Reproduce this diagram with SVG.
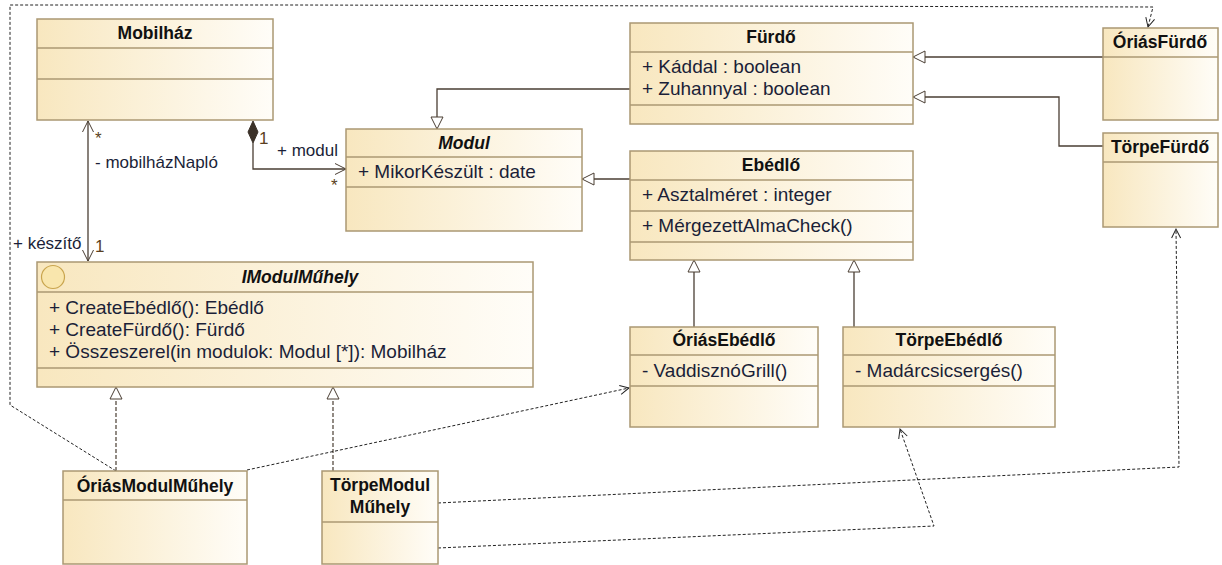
<svg xmlns="http://www.w3.org/2000/svg" width="1222" height="565" viewBox="0 0 1222 565">
  <defs>
    <linearGradient id="classFill" x1="0" y1="0" x2="1" y2="0">
      <stop offset="0" stop-color="#f8e7bf"/>
      <stop offset="1" stop-color="#fffdf8"/>
    </linearGradient>
    <!-- hollow triangle for generalization / realization -->
    <marker id="genArrow" markerUnits="userSpaceOnUse" markerWidth="14" markerHeight="14" refX="12" refY="6" orient="auto" overflow="visible">
      <path d="M0,0 L12,6 L0,12 Z" fill="#ffffff" stroke="#4a3e33" stroke-width="1"/>
    </marker>
    <!-- open arrowhead for associations -->
    <marker id="openArrow" markerUnits="userSpaceOnUse" markerWidth="14" markerHeight="14" refX="11" refY="5.5" orient="auto-start-reverse" overflow="visible">
      <path d="M0,0 L11,5.5 L0,11" fill="none" stroke="#4a3e33" stroke-width="1"/>
    </marker>
    <!-- open arrowhead for dependencies -->
    <marker id="depArrow" markerUnits="userSpaceOnUse" markerWidth="12" markerHeight="12" refX="9" refY="4.5" orient="auto" overflow="visible">
      <path d="M0,0 L9,4.5 L0,9" fill="none" stroke="#222" stroke-width="1"/>
    </marker>
  </defs>
  <style>
    .box { fill: url(#classFill); stroke: #ab9873; stroke-width: 1.5; }
    .sep { stroke: #ab9873; stroke-width: 1.5; }
    .title { font-family: "Liberation Sans", Arial, sans-serif; font-size: 17.5px; font-weight: bold; fill: #111; text-anchor: middle; }
    .ititle { font-style: italic; }
    .member { font-family: "Liberation Sans", Arial, sans-serif; font-size: 19px; fill: #1b1f38; }
    .label { font-family: "Liberation Sans", Arial, sans-serif; font-size: 17px; fill: #1b1f38; }
    .mult { font-family: "Liberation Sans", Arial, sans-serif; font-size: 17px; fill: #5a3f22; }
    .gen { fill: none; stroke: #4a3e33; stroke-width: 1.3; }
    .real { fill: none; stroke: #4a3e33; stroke-width: 1.2; stroke-dasharray: 4 2; }
    .dep { fill: none; stroke: #222; stroke-width: 1; stroke-dasharray: 3 2; }
  </style>

  <rect width="1222" height="565" fill="#ffffff"/>

  <!-- connectors -->
  <g id="connectors">
    <!-- generalizations -->
    <path class="gen" d="M630,89 L437,89 L437,129" marker-end="url(#genArrow)"/>
    <path class="gen" d="M630,179 L582,179" marker-end="url(#genArrow)"/>
    <path class="gen" d="M1103,57 L913,57" marker-end="url(#genArrow)"/>
    <path class="gen" d="M1103,146 L1059,146 L1059,97 L913,97" marker-end="url(#genArrow)"/>
    <path class="gen" d="M694,327 L694,260" marker-end="url(#genArrow)"/>
    <path class="gen" d="M854,327 L854,260" marker-end="url(#genArrow)"/>
    <!-- realizations of the interface -->
    <path class="real" d="M116,471 L116,387" marker-end="url(#genArrow)"/>
    <path class="real" d="M333,471 L333,387" marker-end="url(#genArrow)"/>
    <!-- composition Mobilház - Modul -->
    <path class="gen" d="M253,143 L253,169 L346,169" marker-end="url(#openArrow)"/>
    <path d="M253,121 L258,132 L253,143 L248,132 Z" fill="#3b3128" stroke="#3b3128" stroke-width="1"/>
    <!-- association Mobilház - IModulMűhely -->
    <path class="gen" d="M88,121 L88,261" marker-start="url(#openArrow)" marker-end="url(#openArrow)"/>
    <!-- dependencies -->
    <path class="dep" d="M116,471 L10,405 L10,5 L293,5 L1153,7 L1148,27" marker-end="url(#depArrow)"/>
    <path class="dep" d="M247,470 L629,388" marker-end="url(#depArrow)"/>
    <path class="dep" d="M438,503 L1179,467 L1176,229" marker-end="url(#depArrow)"/>
    <path class="dep" d="M438,548 L934,526 L900,429" marker-end="url(#depArrow)"/>

    <!-- association end labels -->
    <text class="mult" x="95" y="144">*</text>
    <text class="label" x="95" y="168">- mobilházNapló</text>
    <text class="label" x="13" y="249">+ készítő</text>
    <text class="mult" x="95" y="252">1</text>
    <text class="mult" x="259" y="144">1</text>
    <text class="label" x="277" y="156">+ modul</text>
    <text class="mult" x="331" y="191">*</text>
  </g>

  <!-- classes -->
  <g id="mobilhaz">
    <rect class="box" x="37" y="19" width="236" height="101"/>
    <line class="sep" x1="37" y1="48" x2="273" y2="48"/>
    <line class="sep" x1="37" y1="79" x2="273" y2="79"/>
    <text class="title" x="155" y="39">Mobilház</text>
  </g>

  <g id="modul">
    <rect class="box" x="346" y="129" width="236" height="102"/>
    <line class="sep" x1="346" y1="157" x2="582" y2="157"/>
    <line class="sep" x1="346" y1="187" x2="582" y2="187"/>
    <text class="title ititle" x="464" y="149">Modul</text>
    <text class="member" x="358" y="178">+ MikorKészült : date</text>
  </g>

  <g id="furdo">
    <rect class="box" x="630" y="23" width="283" height="101"/>
    <line class="sep" x1="630" y1="52" x2="913" y2="52"/>
    <line class="sep" x1="630" y1="105" x2="913" y2="105"/>
    <text class="title" x="771" y="43">Fürdő</text>
    <text class="member" x="642" y="73">+ Káddal : boolean</text>
    <text class="member" x="642" y="95">+ Zuhannyal : boolean</text>
  </g>

  <g id="oriasfurdo">
    <rect class="box" x="1103" y="28" width="115" height="92"/>
    <line class="sep" x1="1103" y1="57" x2="1218" y2="57"/>
    <text class="title" x="1160" y="48">ÓriásFürdő</text>
  </g>

  <g id="torpefurdo">
    <rect class="box" x="1103" y="133" width="115" height="94"/>
    <line class="sep" x1="1103" y1="162" x2="1218" y2="162"/>
    <text class="title" x="1160" y="153">TörpeFürdő</text>
  </g>

  <g id="ebedlo">
    <rect class="box" x="630" y="151" width="283" height="109"/>
    <line class="sep" x1="630" y1="180" x2="913" y2="180"/>
    <line class="sep" x1="630" y1="211" x2="913" y2="211"/>
    <line class="sep" x1="630" y1="242" x2="913" y2="242"/>
    <text class="title" x="771" y="171">Ebédlő</text>
    <text class="member" x="642" y="201">+ Asztalméret : integer</text>
    <text class="member" x="642" y="232">+ MérgezettAlmaCheck()</text>
  </g>

  <g id="oriasebedlo">
    <rect class="box" x="630" y="327" width="188" height="100"/>
    <line class="sep" x1="630" y1="355" x2="818" y2="355"/>
    <line class="sep" x1="630" y1="386" x2="818" y2="386"/>
    <text class="title" x="724" y="346">ÓriásEbédlő</text>
    <text class="member" x="642" y="377">- VaddisznóGrill()</text>
  </g>

  <g id="torpeebedlo">
    <rect class="box" x="843" y="327" width="212" height="100"/>
    <line class="sep" x1="843" y1="355" x2="1055" y2="355"/>
    <line class="sep" x1="843" y1="386" x2="1055" y2="386"/>
    <text class="title" x="949" y="346">TörpeEbédlő</text>
    <text class="member" x="855" y="377">- Madárcsicsergés()</text>
  </g>

  <g id="imodulmuhely">
    <rect class="box" x="37" y="262" width="496" height="125"/>
    <line class="sep" x1="37" y1="292" x2="533" y2="292"/>
    <line class="sep" x1="37" y1="368" x2="533" y2="368"/>
    <circle cx="53" cy="277" r="11.5" fill="#f9e6ad" stroke="#c9a54e" stroke-width="1.2"/>
    <text class="title ititle" x="300" y="283">IModulMűhely</text>
    <text class="member" x="49" y="314">+ CreateEbédlő(): Ebédlő</text>
    <text class="member" x="49" y="336">+ CreateFürdő(): Fürdő</text>
    <text class="member" x="49" y="358">+ Összeszerel(in modulok: Modul [*]): Mobilház</text>
  </g>

  <g id="oriasmodulmuhely">
    <rect class="box" x="63" y="471" width="184" height="93"/>
    <line class="sep" x1="63" y1="500" x2="247" y2="500"/>
    <text class="title" x="155" y="492">ÓriásModulMűhely</text>
  </g>

  <g id="torpemodulmuhely">
    <rect class="box" x="322" y="471" width="116" height="93"/>
    <line class="sep" x1="322" y1="522" x2="438" y2="522"/>
    <text class="title" x="380" y="491">TörpeModul</text>
    <text class="title" x="380" y="513">Műhely</text>
  </g>
</svg>
